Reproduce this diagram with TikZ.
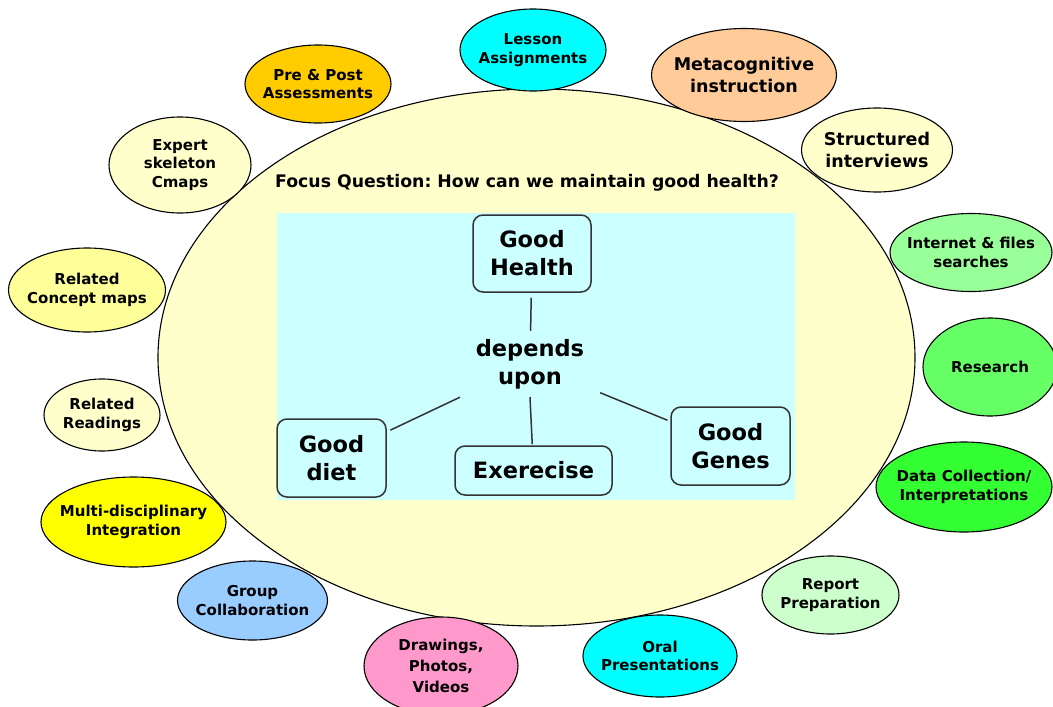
\documentclass[tikz,border=0pt]{standalone}
\usepackage{fontspec}
\setmainfont{DejaVu Sans}
\usetikzlibrary{shapes.geometric}
\frenchspacing

\definecolor{paleyellow}{HTML}{FFFFCC}
\definecolor{palecyan}{HTML}{CCFFFF}
\definecolor{aqua}{HTML}{00FFFF}
\definecolor{peach}{HTML}{FFCC99}
\definecolor{amber}{HTML}{FFCC00}
\definecolor{lightgreen}{HTML}{99FF99}
\definecolor{midgreen}{HTML}{66FF66}
\definecolor{brightgreen}{HTML}{33FF33}
\definecolor{mintgreen}{HTML}{CCFFCC}
\definecolor{lemon}{HTML}{FFFF99}
\definecolor{sunyellow}{HTML}{FFFF00}
\definecolor{skyblue}{HTML}{99CCFF}
\definecolor{pink}{HTML}{FF99CC}
\definecolor{boxline}{HTML}{333333}

\newcommand{\bubblefont}{\bfseries\fontsize{15}{18.5}\selectfont}
\newcommand{\largebubblefont}{\bfseries\fontsize{17.5}{22}\selectfont}
\newcommand{\conceptfont}{\bfseries\fontsize{22.5}{28}\selectfont}

\begin{document}
\begin{tikzpicture}[x=1pt,y=-1pt,
  bubble/.style n args={3}{ellipse, draw=black, line width=1.1pt, fill=#1,
    minimum width=#2, minimum height=#3, inner sep=0pt},
  bubbletext/.style={align=center, font=\bubblefont, inner sep=0pt},
  bigtext/.style={bubbletext, font=\largebubblefont},
  concept/.style n args={2}{rectangle, rounded corners=10pt, draw=boxline, line width=1.5pt,
    fill=palecyan, minimum width=#1, minimum height=#2, inner sep=0pt, align=center, font=\conceptfont},
  link/.style={draw=boxline, line width=1.5pt}]
\clip (0,0) rectangle (1053,707);
\fill[white] (0,0) rectangle (1053,707);

% central focus ellipse and concept map panel
\node[ellipse, draw=black, line width=1.1pt, fill=paleyellow,
      minimum width=757, minimum height=537, inner sep=0pt] (focus) at (536.5,357.5) {};
\node[font=\bfseries\fontsize{17.3}{20}\selectfont] (question) at (527,183)
  {Focus Question: How can we maintain good health?};
\node[rectangle, fill=palecyan, minimum width=518, minimum height=287, inner sep=0pt]
  (panel) at (536,356.5) {};

% concept map
\node[concept={118}{77}] (health) at (532,253.5) {Good\\Health};
\node[align=center, font=\conceptfont, rectangle, minimum width=140, minimum height=66, inner sep=0pt]
  (depends) at (530,364) {depends\\upon};
\node[concept={109}{78}] (diet) at (331.5,458) {Good\\diet};
\node[concept={157}{49}] (exercise) at (533.5,470.5) {Exerecise};
\node[concept={119}{78}] (genes) at (730.5,446) {Good\\Genes};

\draw[link, shorten <=5pt] (health) -- (depends);
\draw[link, shorten >=4pt] (depends) -- (diet);
\draw[link, shorten >=1pt] (depends.south) -- (exercise);
\draw[link, shorten >=3pt] (depends) -- (genes);

% surrounding activities
\node[bubble={aqua}{146}{82}, label={[bubbletext]center:{Lesson\\Assignments}}] (lesson) at (533,50) {};
\node[bubble={peach}{185}{93}, label={[bigtext]center:{Metacognitive\\instruction}}] (meta) at (744,75) {};
\node[bubble={amber}{146}{78}, label={[bubbletext]center:{Pre \& Post\\Assessments}}] (prepost) at (318,84) {};
\node[bubble={paleyellow}{151}{84}, label={[bigtext]center:{Structured\\interviews}}] (struct) at (877,150) {};
\node[bubble={paleyellow}{142}{96}, label={[bubbletext]center:{Expert\\skeleton\\Cmaps}}] (expert) at (180,165) {};
\node[bubble={lightgreen}{162}{78}, label={[bubbletext]center:{Internet \& files\\searches}}] (internet) at (971,252.5) {};
\node[bubble={lemon}{157}{84}, label={[bubbletext]center:{Related\\Concept maps}}] (relcmap) at (87,290) {};
\node[bubble={midgreen}{134}{98}, label={[bubbletext]center:{Research}}] (research) at (990,367) {};
\node[bubble={paleyellow}{116}{72}, label={[bubbletext]center:{Related\\Readings}}] (relread) at (102,415) {};
\node[bubble={brightgreen}{176}{90}, label={[bubbletext]center:{Data Collection/\\Interpretations}}] (datacoll) at (964,487) {};
\node[bubble={sunyellow}{185}{90}, label={[bubbletext]center:{Multi-disciplinary\\Integration}}] (multi) at (133.5,522) {};
\node[bubble={mintgreen}{137}{78}, label={[bubbletext]center:{Report\\Preparation}}] (report) at (830.5,595) {};
\node[bubble={skyblue}{150}{79}, label={[bubbletext]center:{Group\\Collaboration}}] (group) at (252.5,600.5) {};
\node[bubble={aqua}{154}{82}, label={[bubbletext]center:{Oral\\Presentations}}] (oral) at (660,656) {};
\node[bubble={pink}{154}{98}, label={[bubbletext, font=\bfseries\fontsize{15}{21}\selectfont]center:{Drawings,\\Photos,\\Videos}}] (drawings) at (441,666) {};
\end{tikzpicture}
\end{document}
